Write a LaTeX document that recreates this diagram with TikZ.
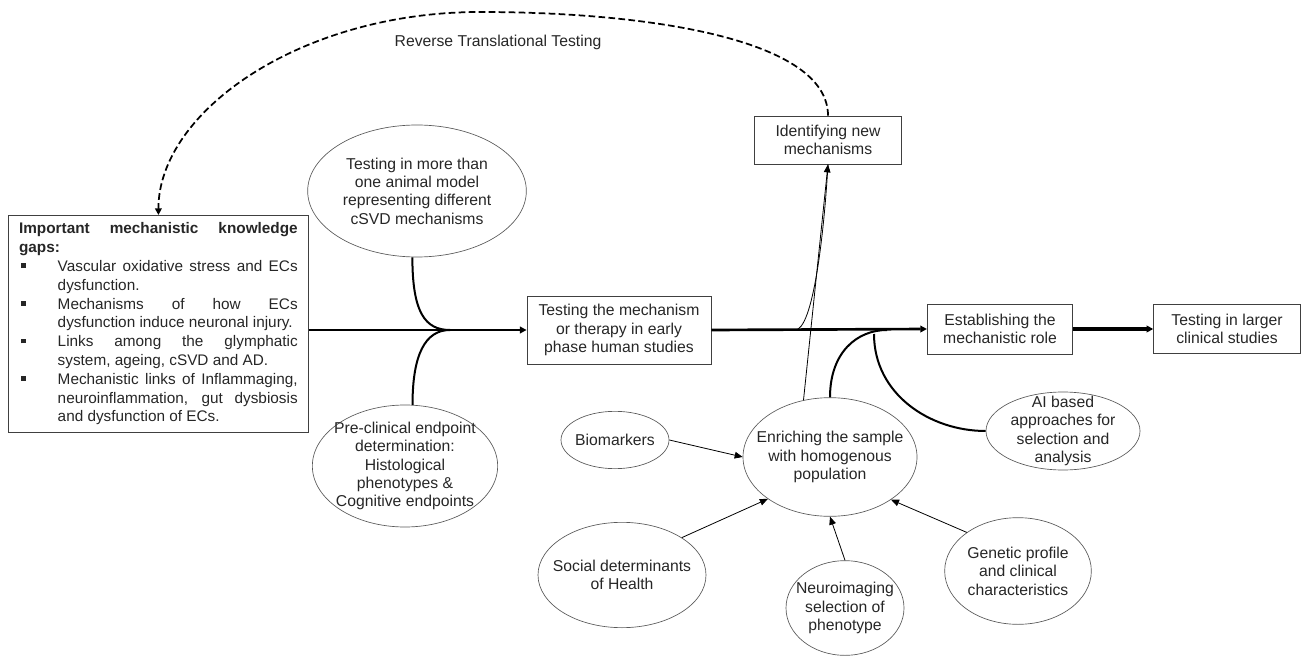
\documentclass[tikz,border=0pt]{standalone}
\usepackage{fontspec}
\setmainfont{Liberation Sans}
\usepackage{enumitem}
\usetikzlibrary{shapes.geometric, arrows.meta}
\newcommand{\gapmark}{\rule[2.5pt]{3.5pt}{3.5pt}}
\tikzset{
    box/.style={rectangle, draw=black!75, line width=0.6pt, align=center, inner sep=2pt},
    bubble/.style={ellipse, draw=black!65, line width=0.5pt, align=center, inner sep=-10pt},
    mainflow/.style={line width=2pt, -{Triangle[length=5pt,width=5pt]}},
    branch/.style={line width=1.5pt},
    feed/.style={line width=0.6pt, -{Triangle[length=6pt,width=5pt]}},
    reverse/.style={line width=1.3pt, dash pattern=on 5pt off 2.5pt, -{Triangle[length=5pt,width=5pt]}}
}

\begin{document}
\begin{tikzpicture}[x=0.75pt, y=-0.75pt, font=\fontsize{11.8}{13.8}\selectfont, text=black!85]
    \useasboundingbox (0,0) rectangle (1302,659);

    % knowledge gaps
    \node (gaps) [box, anchor=north west, align=justify, text width=209pt, inner xsep=8pt, inner ysep=4pt,
        minimum height=162.75pt, font=\fontsize{11.5}{14.1}\selectfont] at (8,215)
    {\hyphenpenalty=10000 \textbf{Important mechanistic knowledge gaps:}
     \begin{itemize}[nosep, leftmargin=29pt, labelwidth=3.5pt, labelsep=24pt, label=\gapmark]
     \item Vascular oxidative stress and ECs dysfunction.
     \item Mechanisms of how ECs dysfunction induce neuronal injury.
     \item Links among the glymphatic system, ageing, cSVD and AD.
     \item Mechanistic links of Inflammaging, neuroinflammation, gut dysbiosis and dysfunction of ECs.
     \end{itemize}};

    % pre-clinical inputs
    \node (animal) [bubble, minimum width=164pt, minimum height=99pt] at (417,191)
        {Testing in more than\\ one animal model\\ representing different\\ cSVD mechanisms};
    \node (preclin) [bubble, minimum width=139pt, minimum height=91.5pt] at (405,466)
        {Pre-clinical endpoint\\ determination:\\ Histological\\ phenotypes \&\\ Cognitive endpoints};

    % main flow
    \node (trial) [box, minimum width=138pt, minimum height=51pt] at (619,330)
        {Testing the mechanism\\ or therapy in early\\ phase human studies};
    \node (ident) [box, minimum width=110pt, minimum height=36pt] at (828,140)
        {Identifying new\\ mechanisms};
    \node (establish) [box, minimum width=109pt, minimum height=37.5pt] at (1000,329)
        {Establishing the\\ mechanistic role};
    \node (larger) [box, minimum width=110pt, minimum height=37pt] at (1227,329)
        {Testing in larger\\ clinical studies};

    % sample enrichment
    \node (enrich) [bubble, minimum width=130.5pt, minimum height=89pt] at (830,457)
        {Enriching the sample\\ with homogenous\\ population};
    \node (biomark) [bubble, minimum width=81pt, minimum height=43pt] at (615,440) {Biomarkers};
    \node (social) [bubble, minimum width=126pt, minimum height=79pt] at (622,575)
        {Social determinants\\ of Health};
    \node (neuro) [bubble, minimum width=88.5pt, minimum height=71pt] at (845,608)
        {Neuroimaging\\ selection of\\ phenotype};
    \node (genetic) [bubble, minimum width=110pt, minimum height=80pt] at (1018,571)
        {Genetic profile\\ and clinical\\ characteristics};
    \node (ai) [bubble, minimum width=115.5pt, minimum height=58.5pt] at (1063,431)
        {AI based\\ approaches for\\ selection and\\ analysis};

    \node (rtt) at (498,42) {Reverse Translational Testing};

    \coordinate (joinL) at (450,330);
    \coordinate (joinR) at (887,330);
    \coordinate (forkI) at (795,330);
    \coordinate (forkR) at (874,334);
    \coordinate (arcTop) at (480,12);

    \draw[mainflow] (gaps.east |- trial.west) -- (trial.west);
    \draw[branch] (animal.266) .. controls +(0,55) and +(-25,0) .. (joinL);
    \draw[branch] (preclin.83) .. controls +(0,-50) and +(-25,0) .. (joinL);
    \draw[branch] (enrich.north) .. controls +(0,-45) and +(-30,0) .. (joinR);
    \draw[branch] (ai.west) .. controls +(-56,0) and +(0,60) .. (forkR);
    \draw[line width=0.6pt] (forkI) .. controls +(18,0) and +(-4,70) .. (ident.south);
    \draw[reverse] (ident.north) .. controls +(0,-76) and +(170,0) .. (arcTop)
        .. controls +(-180,0) and +(0,-103) .. (gaps.north);

    \draw
        (trial.east) edge[mainflow] (establish.west)
        (establish.east) edge[mainflow, line width=3pt] (larger.west)
        (enrich.115) edge[feed] (ident.south)
        (biomark.east) edge[feed] (enrich.west)
        (social.32) edge[feed] (enrich.214)
        (neuro.north) edge[feed] (enrich.south)
        (genetic.143) edge[feed] (enrich.325)
        ;
\end{tikzpicture}
\end{document}
